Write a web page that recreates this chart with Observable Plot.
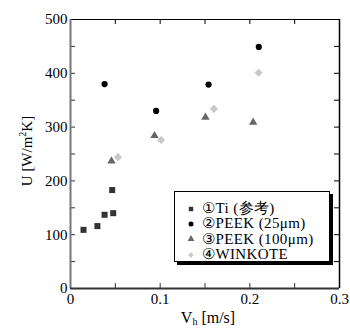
<!DOCTYPE html>
<html><head><meta charset="utf-8">
<script src="https://cdn.jsdelivr.net/npm/d3@7"></script>
<script src="https://cdn.jsdelivr.net/npm/@observablehq/plot@0.6"></script>
<style>
body{margin:0;background:#fff;}
#wrap{position:relative;width:350px;height:331px;font-family:"Liberation Serif",serif;}
#wrap > svg{position:absolute;left:0;top:0;}
.lbl{position:absolute;font-size:15px;white-space:nowrap;color:#000;line-height:1;}
#legend{position:absolute;left:174px;top:191px;width:156px;height:71px;border:1px solid #000;box-shadow:3px 3px 0 #000;background:#fff;box-sizing:border-box;padding-top:9px;}
.row{height:15.3px;display:flex;align-items:center;font-size:15px;line-height:1;letter-spacing:0.4px;font-family:"Liberation Serif",serif;}
.row svg{margin-left:10px;margin-right:5px;flex:none;}
</style></head>
<body><div id="wrap"></div>
<script>
const seriesNames = ["①Ti (参考)", "②PEEK (25μm)", "③PEEK (100μm)", "④WINKOTE"];
const seriesSymbols = ["square", "circle", "triangle", "diamond2"];
const seriesColors = ["#333333", "#000000", "#666666", "#c8c8c8"];
const seriesR = [3.4, 3.1, 3.1, 3.7];

const tiV = [0.0145, 0.030, 0.038, 0.0465, 0.0476];
const tiU = [109, 116, 137, 183, 140];
const peek25V = [0.038, 0.0955, 0.154, 0.210];
const peek25U = [380, 330, 379, 449];
const peek100V = [0.0457, 0.0937, 0.1505, 0.2037];
const peek100U = [237, 284, 318, 309];
const winkoteV = [0.053, 0.101, 0.160, 0.2097];
const winkoteU = [244, 276, 334, 401];

const xLabelTicks = [0, 0.1, 0.2, 0.3];
const xAllTicks = [0, 0.05, 0.1, 0.15, 0.2, 0.25, 0.3];
const yLabelTicks = [0, 100, 200, 300, 400, 500];
const yAllTicks = [0, 50, 100, 150, 200, 250, 300, 350, 400, 450, 500];

const seriesV = [tiV, peek25V, peek100V, winkoteV];
const seriesU = [tiU, peek25U, peek100U, winkoteU];

const mL = 70, mR = 11, mT = 19, mB = 43, W = 350, H = 331;
const pw = W - mL - mR, ph = H - mT - mB;
const tk = 5;

const marks = [];
marks.push(Plot.tickX(xAllTicks, {x: d => d, insetTop: ph - tk, stroke: "#333"}));
marks.push(Plot.tickX(xAllTicks, {x: d => d, insetBottom: ph - tk, stroke: "#000"}));
marks.push(Plot.tickY(yAllTicks, {y: d => d, insetRight: pw - tk, stroke: "#333"}));
marks.push(Plot.tickY(yAllTicks, {y: d => d, insetLeft: pw - tk, stroke: "#000"}));
marks.push(Plot.ruleY([500], {stroke: "#000", strokeWidth: 1}));
marks.push(Plot.ruleX([0.3], {stroke: "#000", strokeWidth: 1.5}));
marks.push(Plot.ruleX([0], {stroke: "#777", strokeWidth: 2}));
marks.push(Plot.ruleY([0], {stroke: "#333", strokeWidth: 2}));
seriesV.forEach((vs, i) => {
  const data = vs.map((v, j) => ({v, u: seriesU[i][j]}));
  marks.push(Plot.dot(data, {x: "v", y: "u", symbol: () => seriesSymbols[i], fill: seriesColors[i], stroke: "none", r: seriesR[i]}));
});
marks.push(Plot.axisX(xLabelTicks, {tickSize: 0, tickPadding: 5, tickFormat: d => String(d), fontSize: 15, fill: "#000", label: null}));
marks.push(Plot.axisY(yLabelTicks, {tickSize: 0, tickPadding: 3, tickFormat: d => String(d), fontSize: 15, fill: "#000", label: null}));

const chart = Plot.plot({
  width: W, height: H,
  marginLeft: mL, marginRight: mR, marginTop: mT, marginBottom: mB,
  x: {domain: [0, 0.3], axis: null, label: null},
  y: {domain: [0, 500], axis: null, label: null},
  symbol: {type: "identity"},
  style: {fontFamily: "'Liberation Serif', serif", fontSize: "15px", background: "#fff", color: "#000"},
  marks
});
const wrap = document.getElementById("wrap");
wrap.appendChild(chart);

const xl = document.createElement("div");
xl.className = "lbl";
xl.style.fontSize = "16px";
xl.innerHTML = 'V<sub style="font-size:10px;vertical-align:-2px">h</sub> [m/s]';
xl.style.left = "208px"; xl.style.top = "310px"; xl.style.transform = "translateX(-50%)";
wrap.appendChild(xl);

const yl = document.createElement("div");
yl.className = "lbl";
yl.innerHTML = 'U [W/m<sup style="font-size:10px;vertical-align:6px">2</sup>K]';
yl.style.left = "26px"; yl.style.top = "151px"; yl.style.transform = "translate(-50%,-50%) rotate(-90deg)";
wrap.appendChild(yl);

const lg = document.createElement("div");
lg.id = "legend";
seriesNames.forEach((name, i) => {
  const row = document.createElement("div");
  row.className = "row";
  const s = d3.create("svg").attr("width", 12).attr("height", 12);
  const sym = {square: d3.symbolSquare, circle: d3.symbolCircle, triangle: d3.symbolTriangle, diamond2: d3.symbolDiamond2}[seriesSymbols[i]];
  s.append("path").attr("transform", "translate(6,6)")
    .attr("d", d3.symbol(sym, Math.PI * 2.5 * 2.5)()).attr("fill", seriesColors[i]);
  row.appendChild(s.node());
  const t = document.createElement("span");
  t.textContent = name;
  row.appendChild(t);
  lg.appendChild(row);
});
wrap.appendChild(lg);
</script></body></html>
